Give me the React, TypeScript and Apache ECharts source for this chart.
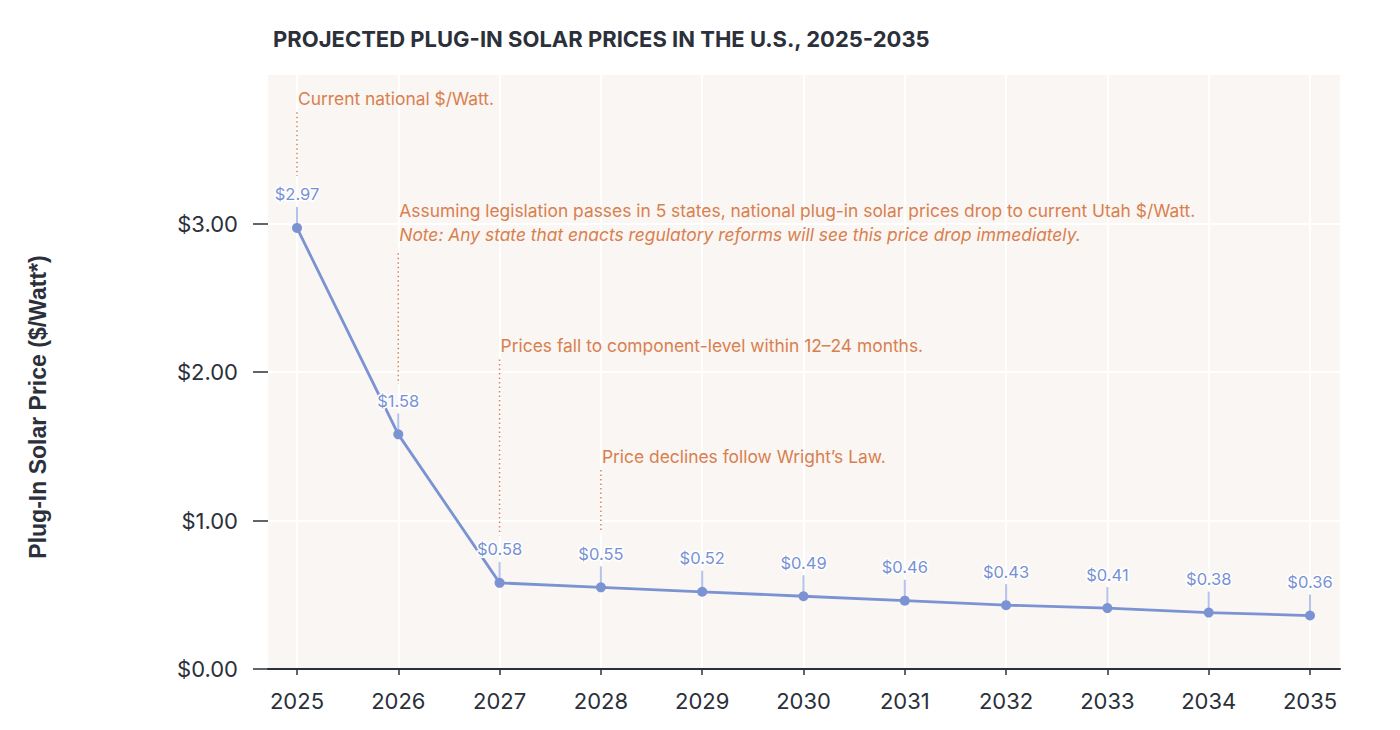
import React, { useEffect, useRef } from "react";
import * as echarts from "echarts";

const years = ["2025", "2026", "2027", "2028", "2029", "2030", "2031", "2032", "2033", "2034", "2035"];
const prices = [2.97, 1.58, 0.58, 0.55, 0.52, 0.49, 0.46, 0.43, 0.41, 0.38, 0.36];
const yLabelValues = [0, 1, 2, 3];

const annotationIndex = [0, 1, 2, 3];
const annotationTexts = [
  "Current national $/Watt.",
  "Assuming legislation passes in 5 states, national plug-in solar prices drop to current Utah $/Watt.",
  "Prices fall to component-level within 12–24 months.",
  "Price declines follow Wright’s Law.",
];
const annotationNotes = [
  "",
  "Note: Any state that enacts regulatory reforms will see this price drop immediately.",
  "",
  "",
];
const annotationTextLevel = [3.84, 3.09, 2.18, 1.43];
const annotationLineTop = [3.75, 2.8, 2.085, 1.34];
const annotationLineBottom = [3.32, 1.92, 0.9, 0.915];

const DARK = "#2b303a";
const BLUE = "#7b93d3";
const LABEL_BLUE = "#7891d4";
const LEADER = "#b4c3ea";
const ORANGE = "#d8804f";
const BG = "#faf6f3";
const FONT = "Inter, 'Noto Sans', sans-serif";

export default function App() {
  const ref = useRef<HTMLDivElement>(null);

  useEffect(() => {
    if (!ref.current) return;
    const chart = echarts.init(ref.current, undefined, { renderer: "svg" });

    const annData = annotationIndex.map((idx, i) => [
      idx,
      annotationTextLevel[i],
      annotationLineTop[i],
      annotationLineBottom[i],
      i,
    ]);

    const option: any = {
      animation: false,
      backgroundColor: "#ffffff",
      textStyle: { fontFamily: FONT },
      title: {
        text: "PROJECTED PLUG-IN SOLAR PRICES IN THE U.S., 2025-2035",
        left: 268,
        top: 23,
        textStyle: { fontFamily: FONT, fontSize: 22, fontWeight: "bold", color: DARK },
      },
      graphic: [
        {
          type: "text",
          x: 38,
          y: 407,
          rotation: Math.PI / 2,
          style: {
            text: "Plug-In Solar Price ($/Watt*)",
            fill: DARK,
            font: "bold 23px 'Liberation Sans', Arial, sans-serif",
            align: "center",
            verticalAlign: "middle",
          },
        },
      ],
      grid: [
        { left: 268, right: 60, top: 75, bottom: 61, show: true, backgroundColor: BG, borderWidth: 0 },
        { left: 297, right: 90, top: 75, bottom: 61, show: false },
      ],
      xAxis: [
        {
          type: "value",
          gridIndex: 0,
          min: 0,
          max: 1,
          axisLine: { show: true, lineStyle: { color: DARK, width: 2 } },
          axisTick: { show: false },
          axisLabel: { show: false },
          splitLine: { show: false },
        },
        {
          type: "category",
          gridIndex: 1,
          data: years,
          boundaryGap: false,
          axisLine: { show: false },
          axisTick: { show: true, length: 6, lineStyle: { color: DARK, width: 1.5 } },
          axisLabel: { color: DARK, fontSize: 22, fontFamily: FONT, margin: 21 },
          splitLine: { show: true, lineStyle: { color: "#ffffff", width: 2 } },
        },
      ],
      yAxis: [
        {
          type: "value",
          gridIndex: 0,
          min: 0,
          max: 4,
          interval: 0.5,
          axisLine: { show: false },
          axisTick: {
            show: true,
            customValues: yLabelValues,
            length: 15,
            lineStyle: { color: DARK, width: 1.5 },
          },
          axisLabel: {
            customValues: yLabelValues,
            color: DARK,
            fontSize: 22,
            fontFamily: FONT,
            margin: 30,
            formatter: (v: number) =>
              Number.isInteger(v) && v < 4 ? "$" + v.toFixed(2) : "",
          },
          splitLine: { show: true, lineStyle: { color: "#ffffff", width: 2 } },
        },
        {
          type: "value",
          gridIndex: 1,
          min: 0,
          max: 4,
          show: false,
        },
      ],
      series: [
        {
          type: "custom",
          xAxisIndex: 1,
          yAxisIndex: 1,
          clip: false,
          z: 2,
          silent: true,
          data: prices.map((v, i) => [i, v]),
          encode: { x: 0, y: 1 },
          renderItem: (params: any, api: any) => {
            const p = api.coord([api.value(0), api.value(1)]);
            return {
              type: "line",
              shape: { x1: p[0], y1: p[1] - 21, x2: p[0], y2: p[1] },
              style: { stroke: LEADER, lineWidth: 2 },
            };
          },
        },
        {
          type: "line",
          xAxisIndex: 1,
          yAxisIndex: 1,
          data: prices,
          z: 3,
          symbol: "circle",
          symbolSize: 10,
          lineStyle: { color: BLUE, width: 2.8 },
          itemStyle: { color: BLUE },
          label: {
            show: true,
            position: "top",
            distance: 20,
            formatter: (p: any) => "$" + Number(p.value).toFixed(2),
            color: LABEL_BLUE,
            fontSize: 16.5,
            fontFamily: FONT,
            textBorderColor: "#ffffff",
            textBorderWidth: 3,
          },
        },
        {
          type: "custom",
          xAxisIndex: 1,
          yAxisIndex: 1,
          clip: false,
          z: 4,
          silent: true,
          data: annData,
          encode: { x: 0, y: 1 },
          renderItem: (params: any, api: any) => {
            const idx = api.value(0);
            const k = api.value(4);
            const pText = api.coord([idx, api.value(1)]);
            const pTop = api.coord([idx, api.value(2)]);
            const pBot = api.coord([idx, api.value(3)]);
            const children: any[] = [
              {
                type: "line",
                shape: { x1: pTop[0], y1: pTop[1], x2: pBot[0], y2: pBot[1] },
                style: { stroke: ORANGE, lineWidth: 1.5, lineDash: [1.5, 3] },
              },
              {
                type: "text",
                x: pText[0] + 1,
                y: pText[1],
                style: {
                  text: annotationTexts[k],
                  fill: ORANGE,
                  fontSize: 17.4,
                  fontFamily: FONT,
                  align: "left",
                  verticalAlign: "middle",
                },
              },
            ];
            if (annotationNotes[k]) {
              children.push({
                type: "text",
                x: pText[0] + 1,
                y: pText[1] + 24,
                style: {
                  text: annotationNotes[k],
                  fill: ORANGE,
                  fontSize: 17.4,
                  fontStyle: "italic",
                  fontFamily: FONT,
                  align: "left",
                  verticalAlign: "middle",
                },
              });
            }
            return { type: "group", children };
          },
        },
      ],
    };

    chart.setOption(option);
    return () => chart.dispose();
  }, []);

  return (
    <div
      ref={ref}
      style={{ position: "fixed", left: 0, top: 0, width: 1400, height: 730 }}
    />
  );
}
